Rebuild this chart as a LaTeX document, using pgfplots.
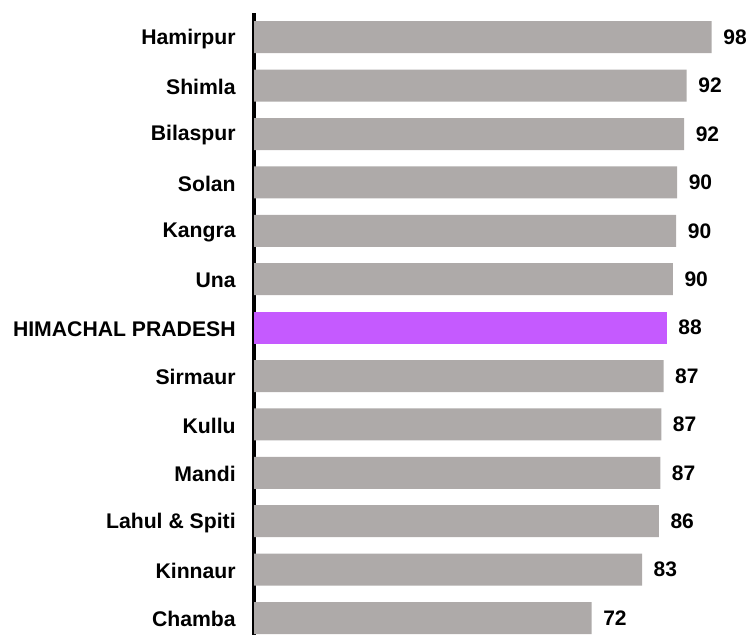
\documentclass[border=0pt]{standalone}
\usepackage{fontspec}
\setmainfont{Liberation Sans}
\usepackage{pgfplots}
\pgfplotsset{compat=1.18}
\definecolor{bargray}{RGB}{174,170,169}
\definecolor{barpurple}{RGB}{197,90,255}
\begin{document}
\begin{tikzpicture}
\useasboundingbox (0,0) rectangle (561.75pt,476.25pt);
\begin{axis}[
  at={(190.5pt,0pt)}, anchor=south west,
  scale only axis,
  width=343.3pt, height=466.5pt,
  xmin=0, xmax=98,
  ymin=-0.35, ymax=12.5,
  axis x line=none,
  axis y line*=left,
  y axis line style={line width=3pt, black},
  ytick={0,...,12},
  yticklabels={Chamba,Kinnaur,Lahul \& Spiti,Mandi,Kullu,Sirmaur,HIMACHAL PRADESH,Una,Kangra,Solan,Bilaspur,Shimla,Hamirpur},
  ytick style={draw=none},
  yticklabel style={font=\fontsize{15.9}{18}\selectfont\bfseries, anchor=east, inner sep=0pt, xshift=-9.3pt, yshift=-1pt},
  xbar, bar width=24pt, bar shift=0pt,
  clip=false,
  point meta=explicit symbolic,
  nodes near coords,
  nodes near coords style={font=\fontsize{15.75}{18}\selectfont\bfseries, anchor=west, inner sep=0pt, xshift=8.5pt},
]
\addplot[fill=bargray, draw=none] coordinates {
  (72.3,0) [72]
  (83.1,1) [83]
  (86.7,2) [86]
  (87.0,3) [87]
  (87.2,4) [87]
  (87.7,5) [87]
  (89.7,7) [90]
  (90.4,8) [90]
  (90.6,9) [90]
  (92.1,10) [92]
  (92.65,11) [92]
  (98.0,12) [98]
};
\addplot[fill=barpurple, draw=none] coordinates {
  (88.4,6) [88]
};
\end{axis}
\end{tikzpicture}
\end{document}
